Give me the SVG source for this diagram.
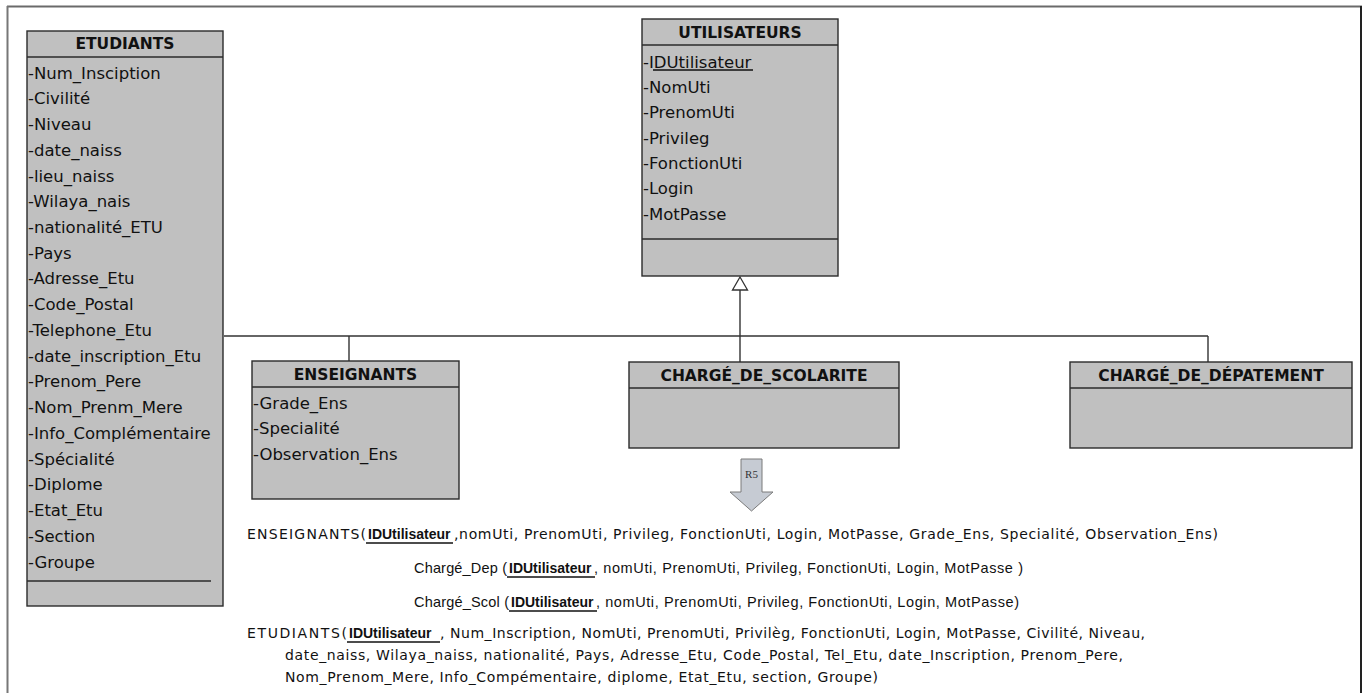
<svg xmlns="http://www.w3.org/2000/svg" width="1367" height="693" viewBox="0 0 1367 693">
<style>
.box{fill:#c0c0c0;stroke:#2b2b2b;stroke-width:1.4}
.sep{stroke:#2b2b2b;stroke-width:1.4;fill:none}
.hd{font-family:"DejaVu Sans",sans-serif;font-weight:bold;font-size:15.5px;fill:#111;text-anchor:middle}
.at{font-family:"DejaVu Sans",sans-serif;font-size:16.5px;fill:#111}
.cn{stroke:#333;stroke-width:1.4;fill:none}
.cm{font-family:"DejaVu Sans",sans-serif;font-size:14px;fill:#111}
.cmb{font-family:"Liberation Sans",Arial,sans-serif;font-weight:bold;font-size:14px;fill:#111}
.ar{font-family:"Liberation Sans",Arial,sans-serif;font-size:14.5px;fill:#111}
.arb{font-family:"Liberation Sans",Arial,sans-serif;font-weight:bold;font-size:14px;fill:#111}
.ul{stroke:#111;stroke-width:1.3}
</style>
<rect width="1367" height="693" fill="#fff"/>
<g id="frame">
<line x1="7" y1="6.5" x2="1362" y2="6.5" stroke="#6a6a6a" stroke-width="2"/>
<line x1="7.5" y1="6" x2="7.5" y2="693" stroke="#777" stroke-width="2"/>
<line x1="1361" y1="6" x2="1361" y2="693" stroke="#222" stroke-width="2"/>
</g>
<g id="connectors">
<line class="cn" x1="224" y1="336" x2="1208" y2="336"/>
<line class="cn" x1="349" y1="336" x2="349" y2="361"/>
<line class="cn" x1="740" y1="290" x2="740" y2="362"/>
<line class="cn" x1="1208" y1="336" x2="1208" y2="362"/>
<polygon points="740,277 747.5,290 732.5,290" fill="#fff" stroke="#333" stroke-width="1.3"/>
</g>
<g id="etudiants">
<rect class="box" x="27" y="31" width="196" height="575"/>
<line class="sep" x1="27" y1="57" x2="223" y2="57"/>
<line class="sep" x1="27" y1="581" x2="211" y2="581"/>
<text class="hd" x="125" y="49">ETUDIANTS</text>
<text class="at" x="28" y="78.5">-Num_Insciption</text>
<text class="at" x="28" y="104.2">-Civilité</text>
<text class="at" x="28" y="130">-Niveau</text>
<text class="at" x="28" y="155.7">-date_naiss</text>
<text class="at" x="28" y="181.5">-lieu_naiss</text>
<text class="at" x="28" y="207.2">-Wilaya_nais</text>
<text class="at" x="28" y="232.9">-nationalité_ETU</text>
<text class="at" x="28" y="258.7">-Pays</text>
<text class="at" x="28" y="284.4">-Adresse_Etu</text>
<text class="at" x="28" y="310.2">-Code_Postal</text>
<text class="at" x="28" y="335.9">-Telephone_Etu</text>
<text class="at" x="28" y="361.6">-date_inscription_Etu</text>
<text class="at" x="28" y="387.4">-Prenom_Pere</text>
<text class="at" x="28" y="413.1">-Nom_Prenm_Mere</text>
<text class="at" x="28" y="438.9">-Info_Complémentaire</text>
<text class="at" x="28" y="464.6">-Spécialité</text>
<text class="at" x="28" y="490.3">-Diplome</text>
<text class="at" x="28" y="516.1">-Etat_Etu</text>
<text class="at" x="28" y="541.8">-Section</text>
<text class="at" x="28" y="567.5">-Groupe</text>
</g>
<g id="utilisateurs">
<rect class="box" x="642" y="19" width="196" height="257"/>
<line class="sep" x1="642" y1="45" x2="838" y2="45"/>
<line class="sep" x1="642" y1="239" x2="838" y2="239"/>
<text class="hd" x="740" y="38">UTILISATEURS</text>
<text class="at" x="643" y="67.5">-IDUtilisateur</text>
<line class="ul" x1="653" y1="70" x2="753" y2="70"/>
<text class="at" x="643" y="92.8">-NomUti</text>
<text class="at" x="643" y="118.2">-PrenomUti</text>
<text class="at" x="643" y="143.5">-Privileg</text>
<text class="at" x="643" y="168.8">-FonctionUti</text>
<text class="at" x="643" y="194.2">-Login</text>
<text class="at" x="643" y="219.5">-MotPasse</text>
</g>
<g id="enseignants">
<rect class="box" x="252" y="361" width="207" height="138"/>
<line class="sep" x1="252" y1="387" x2="459" y2="387"/>
<text class="hd" x="355.5" y="380">ENSEIGNANTS</text>
<text class="at" x="253" y="408.5">-Grade_Ens</text>
<text class="at" x="253" y="434">-Specialité</text>
<text class="at" x="253" y="459.5">-Observation_Ens</text>
</g>
<g id="charge_scolarite">
<rect class="box" x="629" y="362" width="270" height="86"/>
<line class="sep" x1="629" y1="388" x2="899" y2="388"/>
<text class="hd" x="764" y="381">CHARGÉ_DE_SCOLARITE</text>
</g>
<g id="charge_departement">
<rect class="box" x="1070" y="362" width="282" height="86"/>
<line class="sep" x1="1070" y1="388" x2="1352" y2="388"/>
<text class="hd" x="1211" y="381">CHARGÉ_DE_DÉPATEMENT</text>
</g>
<g id="r5">
<polygon points="741,459 762,459 762,492 773,492 751.5,511 730,492 741,492" fill="#c6cbd3" stroke="#7a7a7a" stroke-width="1"/>
<text x="751.5" y="478" font-family="Liberation Serif,serif" font-size="11" fill="#333" text-anchor="middle">R5</text>
</g>
<g id="relational">
<text class="cm" x="247" y="539" font-size="15.5" textLength="119">ENSEIGNANTS(</text>
<text class="cmb" x="368" y="539">IDUtilisateur</text>
<line class="ul" x1="366" y1="543" x2="453" y2="543"/>
<text class="cm" x="454" y="539" textLength="764">,nomUti, PrenomUti, Privileg, FonctionUti, Login, MotPasse, Grade_Ens, Specialité, Observation_Ens)</text>

<text class="ar" x="414" y="573" textLength="93">Chargé_Dep (</text>
<text class="arb" x="509" y="573">IDUtilisateur</text>
<line class="ul" x1="507" y1="577" x2="595" y2="577"/>
<text class="ar" x="594" y="573" textLength="429">, nomUti, PrenomUti, Privileg, FonctionUti, Login, MotPasse )</text>

<text class="ar" x="414" y="607" textLength="95">Chargé_Scol (</text>
<text class="arb" x="511" y="607">IDUtilisateur</text>
<line class="ul" x1="509" y1="611" x2="597" y2="611"/>
<text class="ar" x="596" y="607" textLength="423">, nomUti, PrenomUti, Privileg, FonctionUti, Login, MotPasse)</text>

<text class="cm" x="247" y="638" font-size="16" textLength="100">ETUDIANTS(</text>
<text class="cmb" x="349" y="638" font-size="14.5">IDUtilisateur</text>
<line class="ul" x1="347" y1="642" x2="440" y2="642"/>
<text class="cm" x="440" y="638" textLength="705">, Num_Inscription, NomUti, PrenomUti, Privilèg, FonctionUti, Login, MotPasse, Civilité, Niveau,</text>
<text class="cm" x="285" y="660" textLength="838">date_naiss, Wilaya_naiss, nationalité, Pays, Adresse_Etu, Code_Postal, Tel_Etu, date_Inscription, Prenom_Pere,</text>
<text class="cm" x="285" y="682" textLength="593">Nom_Prenom_Mere, Info_Compémentaire, diplome, Etat_Etu, section, Groupe)</text>
</g>
</svg>
